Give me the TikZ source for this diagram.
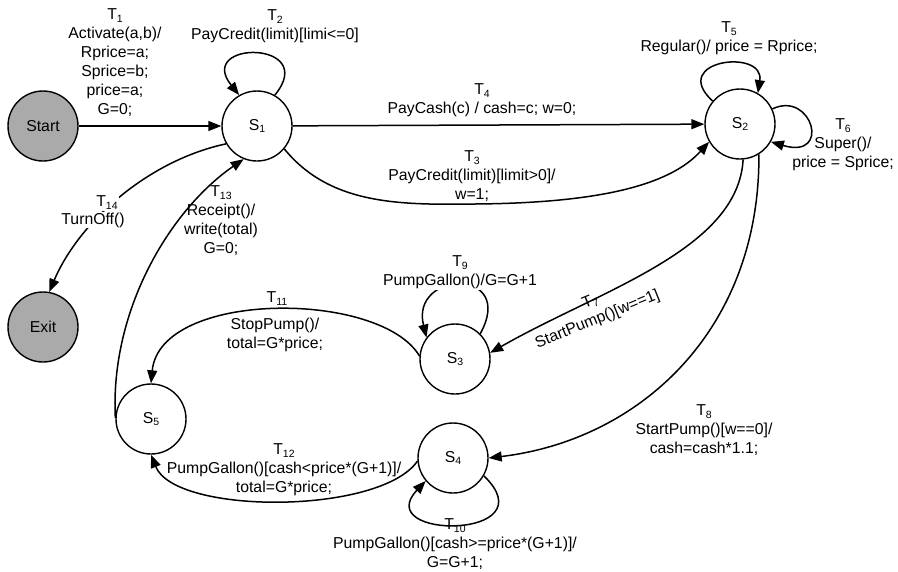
\documentclass[tikz,border=0pt]{standalone}
\usepackage{fontspec}
\setmainfont{Liberation Sans}
\usetikzlibrary{arrows.meta}
\newcommand\lblfont{\fontsize{15.8}{19}\selectfont}
\newcommand\subidx[1]{\raisebox{-0.35ex}{\fontsize{10.5}{11}\selectfont #1}}
\definecolor{stategray}{RGB}{170,170,170}
\begin{document}
\begin{tikzpicture}[x=1pt,y=-1pt,
  stnode/.style={circle,draw,line width=1.4pt,minimum size=70pt,inner sep=0pt,font=\lblfont},
  endnode/.style={stnode,fill=stategray},
  tr/.style={draw,line width=1.5pt,-{Triangle[length=13pt,width=10pt]}},
  lbl/.style={align=center,font=\lblfont,inner sep=1pt},
  wlbl/.style={lbl,fill=white}]
\useasboundingbox (0,0) rectangle (898,571);
% states
\node[endnode] (Start) at (43,126) {Start};
\node[endnode] (Exit) at (43,327) {Exit};
\node[stnode] (S1) at (257,126) {S\subidx{1}};
\node[stnode] (S2) at (740,124) {S\subidx{2}};
\node[stnode] (S3) at (455,359) {S\subidx{3}};
\node[stnode] (S4) at (453,458) {S\subidx{4}};
\node[stnode] (S5) at (151,419) {S\subidx{5}};
% transitions
\draw[tr] (Start) -- (S1);
\draw[tr] (S1.60) .. controls (320,40) and (195,40) .. (S1.120);
\draw[tr] (S1) -- (S2);
\draw[tr] (S1.-40) .. controls (330,205) and (400,205) .. (475,204) .. controls (600,203) and (670,185) .. (S2.-150);
\draw[tr] (S2.140) .. controls (668,60) and (765,48) .. (S2.60);
\draw[tr] (S2.25) .. controls (812,90) and (832,160) .. (S2.-30);
\draw[tr] (S2.-85) .. controls (738,250) and (600,290) .. (S3.10);
\draw[tr] (S2.-58) .. controls (760,330) and (640,440) .. (S4.0);
\draw[tr] (S3.45) .. controls (517,267) and (410,270) .. (S3.143);
\draw[tr] (S4.-30) .. controls (550,540) and (370,540) .. (S4.-140);
\draw[tr] (S3.175) .. controls (380,290) and (160,290) .. (S5.90);
\draw[tr] (S4.185) .. controls (380,515) and (175,515) .. (S5.-90);
\draw[tr] (S5.178) .. controls (110,310) and (170,210) .. (S1.-112);
\draw[tr] (S1.-150) .. controls (150,160) and (80,220) .. (Exit.80);
% labels
\node[lbl] (L1) at (115,63) {T\subidx{1}\\Activate(a,b)/\\Rprice=a;\\Sprice=b;\\price=a;\\G=0;};
\node[lbl] (L2) at (275,26) {T\subidx{2}\\PayCredit(limit)[limi<=0]};
\node[lbl] (L4) at (482,100) {T\subidx{4}\\PayCash(c) / cash=c; w=0;};
\node[lbl] (L3) at (472,176) {T\subidx{3}\\PayCredit(limit)[limit>0]/\\w=1;};
\node[lbl] (L5) at (729,38) {T\subidx{5}\\Regular()/ price = Rprice;};
\node[lbl] (L6) at (843,145) {T\subidx{6}\\Super()/\\price = Sprice;};
\node[lbl,rotate=22] (L7) at (594,311) {T\subidx{7}\\StartPump()[w==1]};
\node[lbl] (L8) at (704,430) {T\subidx{8}\\StartPump()[w==0]/\\cash=cash*1.1;};
\node[wlbl] (L9) at (460,272) {T\subidx{9}\\PumpGallon()/G=G+1};
\node[lbl] (L10) at (455,544) {T\subidx{10}\\PumpGallon()[cash>=price*(G+1)]/\\G=G+1;};
\node[lbl] (L11a) at (277,299) {T\subidx{11}};
\node[lbl] (L11b) at (275,335) {StopPump()/\\total=G*price;};
\node[lbl] (L12) at (284,470) {T\subidx{12}\\PumpGallon()[cash<price*(G+1)]/\\total=G*price;};
\node[lbl] (L13) at (221,221) {T\subidx{13}\\Receipt()/\\write(total)\\G=0;};
\node[wlbl] (L14a) at (107,203) {T\subidx{14}};
\node[wlbl] (L14b) at (93,220) {TurnOff()};
\end{tikzpicture}
\end{document}
